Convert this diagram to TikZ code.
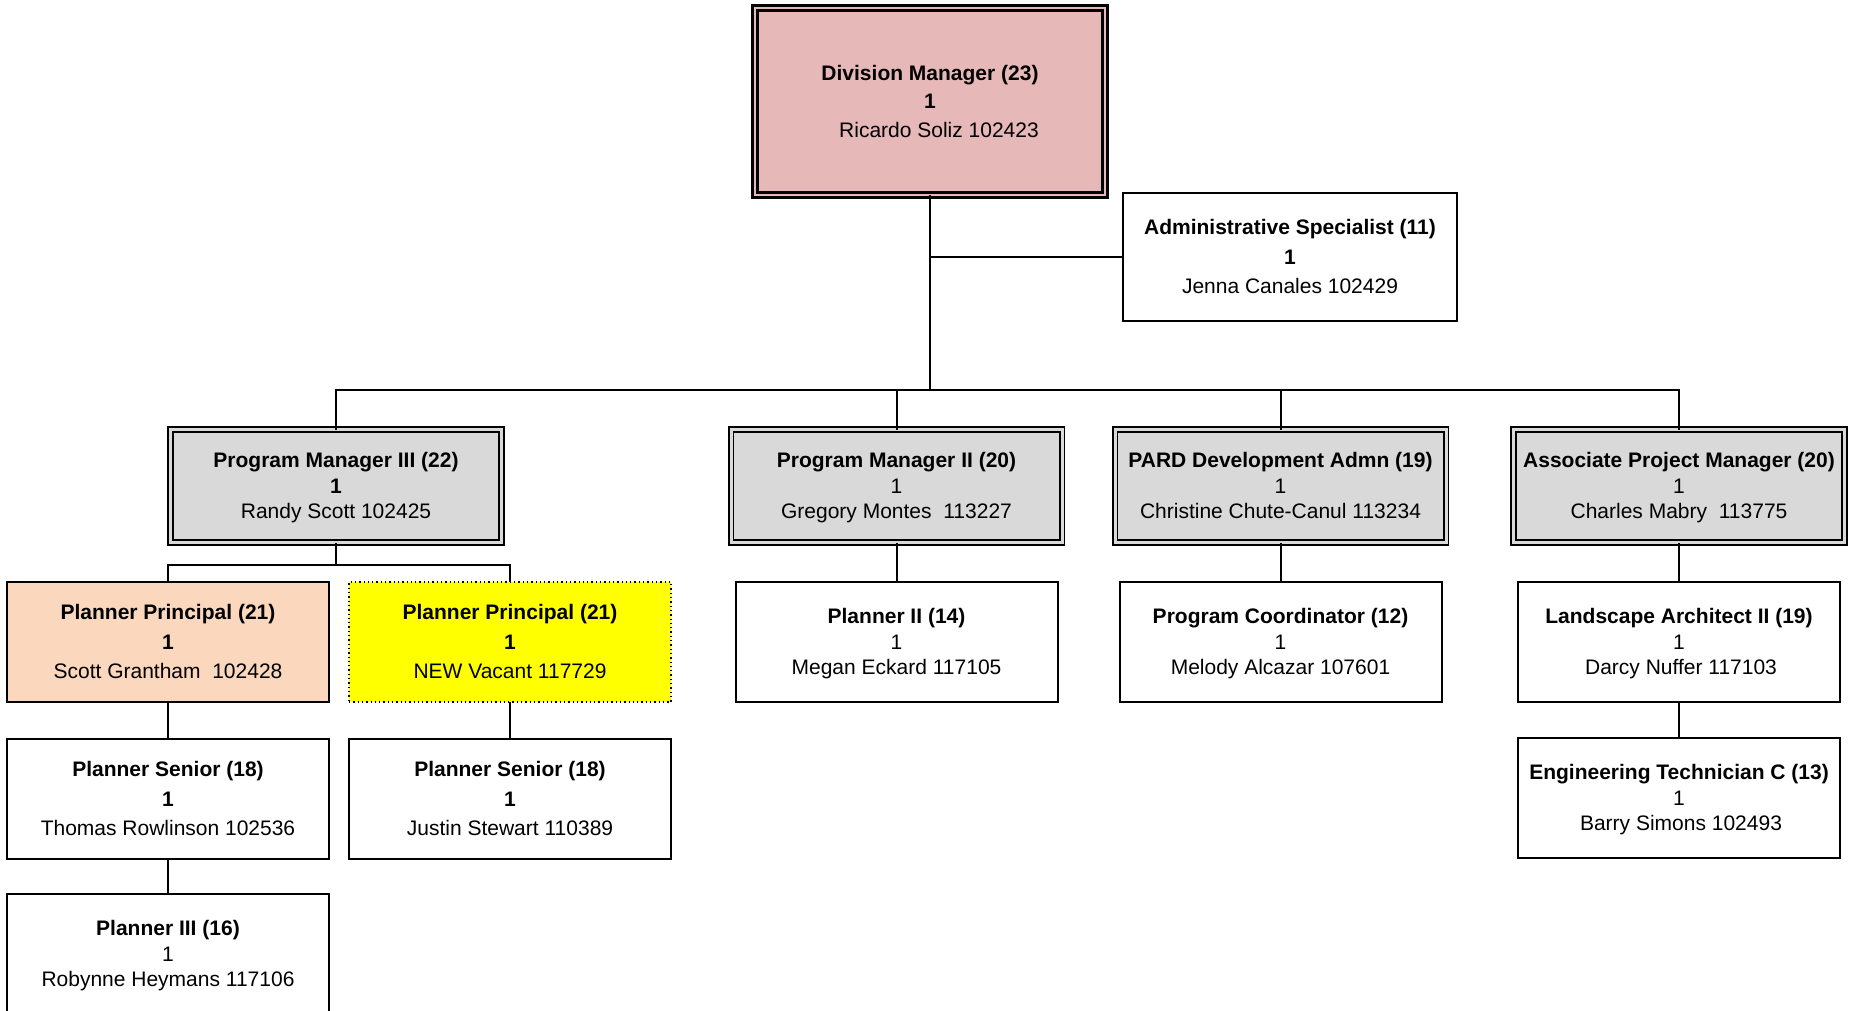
\documentclass[tikz,border=0pt]{standalone}
\usepackage{fontspec}
\setmainfont{Liberation Sans}
\definecolor{gfill}{HTML}{D9D9D9}
\definecolor{divfill}{HTML}{E6B8B7}
\definecolor{peach}{HTML}{FAD7BD}
\definecolor{vacant}{HTML}{FFFF00}
\newcommand{\TS}{\rule{0pt}{19.5pt}}
\tikzset{
  box/.style={draw, line width=2pt, fill=white, minimum width=322pt, minimum height=120pt,
    inner sep=0pt, outer sep=0pt, align=center, font=\fontsize{21}{25.5}\selectfont,
    execute at end node={\rule[-4.6pt]{0pt}{4.6pt}}},
  widebox/.style={box, font=\fontsize{21}{29.5}\selectfont},
  graybox/.style={box, fill=gfill, double=gfill, double distance=3pt, line width=1.6pt,
    minimum width=331pt, minimum height=113pt},
  divbox/.style={widebox, fill=divfill, double=divfill, double distance=1.2pt, line width=3.6pt,
    minimum width=350pt, minimum height=187pt, font=\fontsize{21}{28.5}\selectfont},
  vacbox/.style={widebox, fill=vacant, line width=1.3pt, dash pattern=on 1.3pt off 3pt},
  conn/.style={draw, line width=2pt},
}
\begin{document}
\begin{tikzpicture}[x=1pt,y=-1pt]
\useasboundingbox (0,0) rectangle (1853,1011);
\clip (0,0) rectangle (1853,1011);
% top
\node[divbox] (dm) at (930,101.5) {\TS\textbf{Division Manager (23)}\\\textbf{1}\\\hspace*{18pt}Ricardo Soliz 102423};
\node[widebox, minimum width=334pt, minimum height=128pt] (adm) at (1290,257) {\TS\textbf{Administrative Specialist (11)}\\\textbf{1}\\Jenna Canales 102429};
% level 2
\node[graybox] (pm3) at (336,486) {\TS\textbf{Program Manager III (22)}\\\textbf{1}\\Randy Scott 102425};
\node[graybox] (pm2) at (896.5,486) {\TS\textbf{Program Manager II (20)}\\1\\Gregory Montes~~113227};
\node[graybox] (pard) at (1280.5,486) {\TS\textbf{PARD Development Admn (19)}\\1\\Christine Chute-Canul 113234};
\node[graybox] (apm) at (1679,486) {\TS\textbf{Associate Project Manager (20)}\\1\\Charles Mabry~~113775};
% level 3
\node[widebox, fill=peach] (pp1) at (168,642) {\TS\textbf{Planner Principal (21)}\\\textbf{1}\\Scott Grantham~~102428};
\node[vacbox] (pp2) at (510,642) {\TS\textbf{Planner Principal (21)}\\\textbf{1}\\NEW Vacant 117729};
\node[box] (p2) at (896.5,642) {\TS\textbf{Planner II (14)}\\1\\Megan Eckard 117105};
\node[box] (pc) at (1280.5,642) {\TS\textbf{Program Coordinator (12)}\\1\\Melody Alcazar 107601};
\node[box] (la) at (1679,642) {\TS\textbf{Landscape Architect II (19)}\\1\\\hspace*{4pt}Darcy Nuffer 117103};
% level 4
\node[widebox] (ps1) at (168,799) {\TS\textbf{Planner Senior (18)}\\\textbf{1}\\Thomas Rowlinson 102536};
\node[widebox] (ps2) at (510,799) {\TS\textbf{Planner Senior (18)}\\\textbf{1}\\Justin Stewart 110389};
\node[box] (et) at (1679,798) {\TS\textbf{Engineering Technician C (13)}\\1\\\hspace*{4pt}Barry Simons 102493};
% level 5
\node[box] (p3) at (168,954) {\TS\textbf{Planner III (16)}\\1\\Robynne Heymans 117106};
% connectors
\coordinate (bus) at (930,390);
\coordinate (sub) at (336,565);
\draw[conn] (dm.south) -- (bus);
\draw[conn] (adm.west) -- (adm.west -| dm.south);
\draw[conn] (pm3.north) |- (bus) -| (apm.north);
\draw[conn] (pm2.north) -- (pm2.north |- bus);
\draw[conn] (pard.north) -- (pard.north |- bus);
\draw[conn] (pm3.south) -- (sub);
\draw[conn] (pp1.north) |- (sub) -| (pp2.north);
\draw[conn] (pm2.south) -- (p2.north);
\draw[conn] (pard.south) -- (pc.north);
\draw[conn] (apm.south) -- (la.north);
\draw[conn] (la.south) -- (et.north);
\draw[conn] (pp1.south) -- (ps1.north);
\draw[conn] (pp2.south) -- (ps2.north);
\draw[conn] (ps1.south) -- (p3.north);
\end{tikzpicture}
\end{document}
